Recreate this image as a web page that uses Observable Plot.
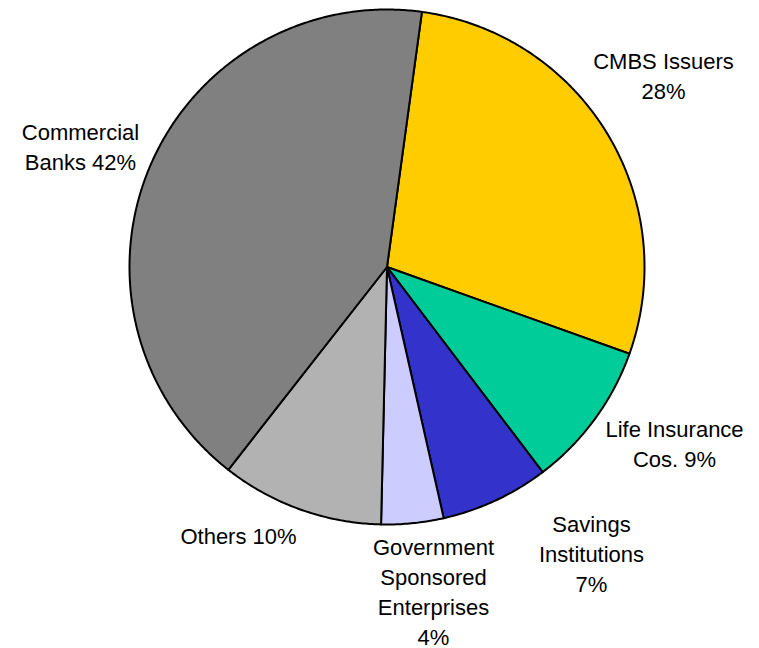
<!DOCTYPE html>
<html>
<head>
<meta charset="utf-8">
<script src="https://cdn.jsdelivr.net/npm/d3@7"></script>
<script src="https://cdn.jsdelivr.net/npm/@observablehq/plot@0.6"></script>
<style>
  html, body { margin: 0; padding: 0; background: #fff; }
  #chart svg { display: block; }
</style>
</head>
<body>
<div id="chart"></div>
<script>
// ---- data ----
const categories = ["CMBS Issuers", "Life Insurance Cos.", "Savings Institutions", "Government Sponsored Enterprises", "Others", "Commercial Banks"];
const shares = [28.3, 9.2, 6.8, 3.9, 10.2, 41.6];
const labelLines = [
  "CMBS Issuers\n28%",
  "Life Insurance\nCos. 9%",
  "Savings\nInstitutions\n7%",
  "Government\nSponsored\nEnterprises\n4%",
  "Others 10%",
  "Commercial\nBanks 42%"
];
const sliceColors = ["#FFCC00", "#00CC99", "#3333CC", "#CCCCFF", "#B2B2B2", "#808080"];

// ---- layout ----
const W = 759, H = 648;
const cx = 386.5, cy = 266.5, R = 257.5;
const startDeg = 7.8;
const labelAnchors = [[663, 74], [674, 442], [591, 552], [433, 590], [238, 534], [80, 145]];

// build slice polygons (angles clockwise from 12 o'clock)
const total = d3.sum(shares);
const slicePts = [];
let a0 = startDeg;
categories.forEach((c, i) => {
  const span = shares[i] / total * 360;
  const a1 = a0 + span;
  slicePts.push({name: c, x: cx, y: cy});
  const n = Math.max(2, Math.ceil(span * 2));
  for (let k = 0; k <= n; k++) {
    const t = (a0 + (a1 - a0) * k / n) * Math.PI / 180;
    slicePts.push({name: c, x: cx + R * Math.sin(t), y: cy - R * Math.cos(t)});
  }
  a0 = a1;
});

const labels = categories.map((c, i) => ({name: c, text: labelLines[i], x: labelAnchors[i][0], y: labelAnchors[i][1]}));

const plot = Plot.plot({
  width: W,
  height: H,
  margin: 0,
  x: {domain: [0, W], range: [0, W], axis: null},
  y: {domain: [0, H], range: [0, H], axis: null},
  color: {domain: categories, range: sliceColors},
  style: {background: "#fff"},
  marks: [
    Plot.line(slicePts, {x: "x", y: "y", z: "name", fill: "name", stroke: "#000", strokeWidth: 2, curve: "linear-closed", strokeLinejoin: "round"}),
    Plot.text(labels, {x: "x", y: "y", text: "text", textAnchor: "middle", lineAnchor: "middle", lineHeight: 1.36, fontSize: 22, fill: "#000", fontFamily: "Liberation Sans, Arial, sans-serif"})
  ]
});
document.getElementById("chart").appendChild(plot);
</script>
</body>
</html>
